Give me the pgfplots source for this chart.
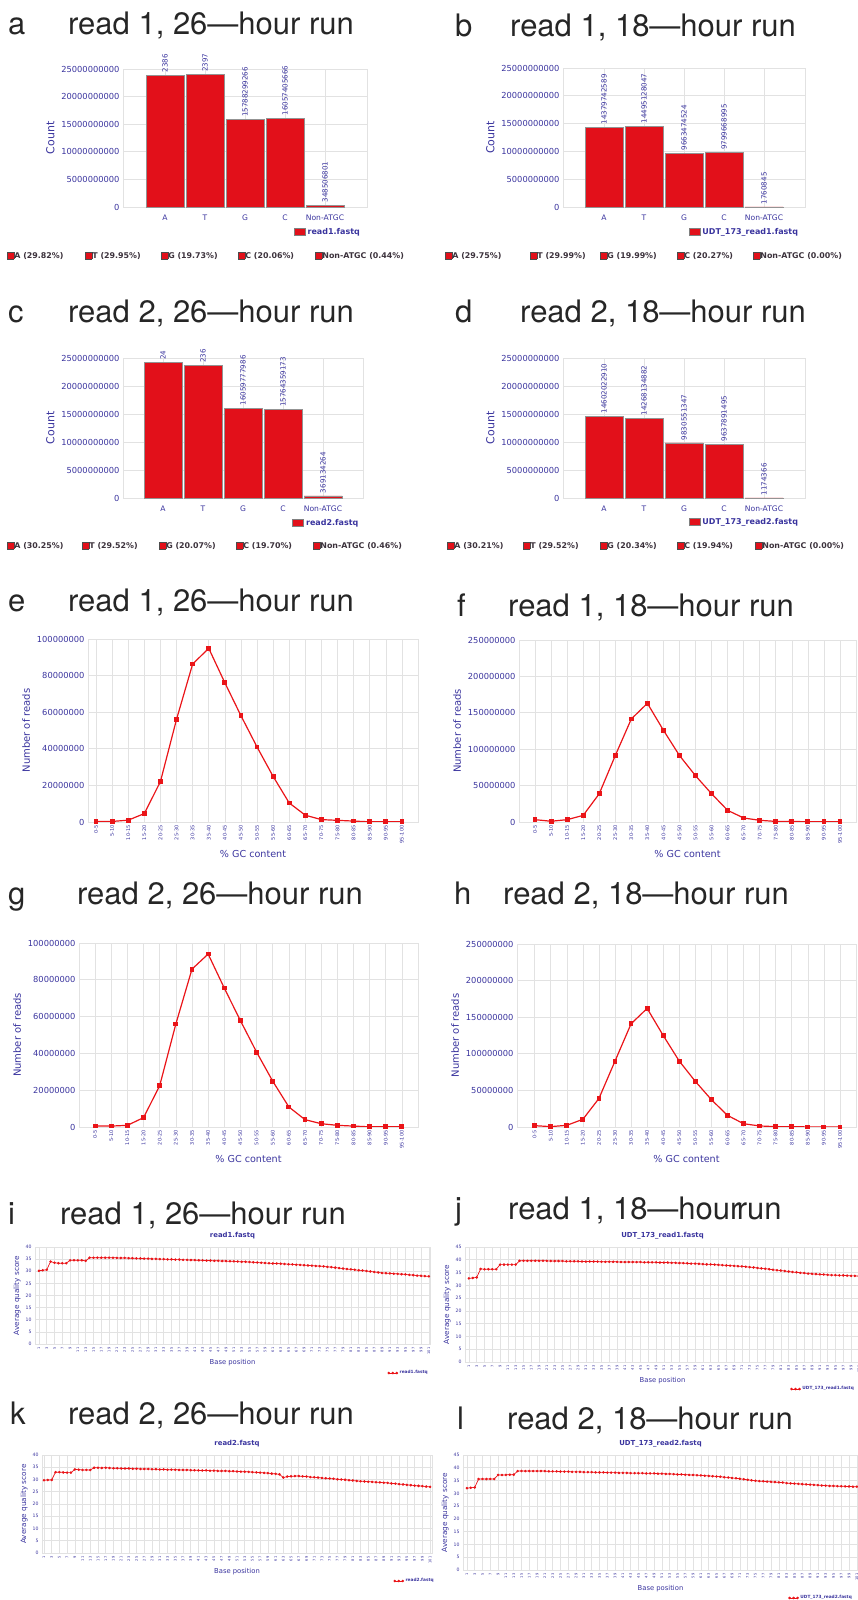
\documentclass[border=0pt]{standalone}
\usepackage{fontspec}
\setmainfont{TeX Gyre Heros}
\newfontfamily\cf{DejaVu Sans}
\usepackage{pgfplots}
\usepackage{pgfplotstable}
\pgfplotsset{compat=1.18}
\definecolor{jblue}{RGB}{58,52,158}
\definecolor{barred}{RGB}{226,16,26}
\definecolor{linered}{RGB}{234,20,24}
\definecolor{gridc}{RGB}{226,226,226}
\definecolor{legtext}{RGB}{60,50,60}
\newcommand{\sq}{{\fboxsep=0pt\fboxrule=0.6pt\fcolorbox{black!70}{barred}{\rule{0pt}{6pt}\hspace{6pt}}}}

\pgfplotstableread{
idx e f g h
0 300000 3200000 500000 1800000
1 300000 1000000 500000 500000
2 1000000 3200000 900000 2300000
3 4600000 9100000 5100000 10500000
4 22100000 38800000 22500000 39000000
5 56100000 91300000 56000000 90000000
6 86300000 141600000 85800000 141000000
7 94900000 163000000 94000000 162000000
8 76100000 126000000 75500000 125000000
9 58100000 91300000 57800000 90000000
10 41000000 63500000 40700000 62300000
11 24900000 38800000 24900000 37300000
12 10400000 16000000 10900000 15900000
13 3700000 5500000 4000000 4500000
14 1300000 2300000 1800000 1400000
15 900000 800000 900000 500000
16 500000 900000 500000 500000
17 100000 200000 100000 100000
18 100000 200000 100000 100000
19 100000 200000 100000 100000
}\gcdata

\pgfplotstableread{
pos i j k l
1 30.2 32.7 29.7 32.0
2 30.4 32.9 29.8 32.2
3 30.6 33.1 29.8 32.3
4 34.0 36.4 33.0 35.6
5 33.5 36.3 33.0 35.6
6 33.3 36.3 32.9 35.6
7 33.3 36.3 32.8 35.6
8 33.3 36.3 32.8 35.6
9 34.5 38.1 34.1 37.2
10 34.5 38.1 34.0 37.2
11 34.5 38.1 33.9 37.2
12 34.5 38.1 33.9 37.3
13 34.3 38.1 33.9 37.3
14 35.6 39.6 34.8 38.7
15 35.6 39.6 34.8 38.7
16 35.6 39.6 34.7 38.7
17 35.6 39.6 34.8 38.7
18 35.6 39.6 34.7 38.7
19 35.6 39.6 34.6 38.7
20 35.6 39.6 34.6 38.7
21 35.5 39.6 34.5 38.7
22 35.5 39.5 34.5 38.6
23 35.5 39.5 34.5 38.6
24 35.4 39.5 34.4 38.6
25 35.4 39.5 34.4 38.5
26 35.3 39.4 34.3 38.5
27 35.3 39.4 34.3 38.5
28 35.2 39.4 34.3 38.4
29 35.2 39.4 34.2 38.4
30 35.1 39.3 34.2 38.4
31 35.1 39.3 34.1 38.3
32 35.0 39.3 34.1 38.3
33 35.0 39.3 34.0 38.3
34 34.9 39.3 34.0 38.2
35 34.9 39.2 34.0 38.2
36 34.8 39.2 33.9 38.2
37 34.8 39.2 33.9 38.1
38 34.7 39.2 33.9 38.1
39 34.7 39.2 33.8 38.1
40 34.6 39.1 33.8 38.0
41 34.6 39.1 33.7 38.0
42 34.5 39.1 33.7 38.0
43 34.5 39.1 33.7 37.9
44 34.4 39.1 33.6 37.9
45 34.4 39.1 33.6 37.9
46 34.3 39.0 33.5 37.9
47 34.3 39.0 33.5 37.8
48 34.2 39.0 33.5 37.8
49 34.2 39.0 33.4 37.8
50 34.1 38.9 33.4 37.7
51 34.1 38.9 33.3 37.7
52 34.0 38.9 33.2 37.6
53 33.9 38.8 33.2 37.6
54 33.9 38.8 33.1 37.5
55 33.8 38.7 33.0 37.4
56 33.7 38.7 32.9 37.4
57 33.6 38.6 32.8 37.3
58 33.5 38.5 32.7 37.2
59 33.4 38.5 32.6 37.2
60 33.3 38.4 32.4 37.1
61 33.2 38.3 32.3 37.0
62 33.2 38.2 32.1 36.9
63 33.1 38.2 30.8 36.8
64 33.0 38.1 31.2 36.7
65 32.9 38.0 31.3 36.6
66 32.8 37.9 31.4 36.5
67 32.7 37.8 31.4 36.3
68 32.6 37.7 31.3 36.2
69 32.5 37.6 31.2 36.0
70 32.4 37.5 31.0 35.9
71 32.3 37.4 30.9 35.7
72 32.2 37.3 30.8 35.5
73 32.1 37.1 30.6 35.3
74 32.0 37.0 30.5 35.1
75 31.8 36.8 30.4 34.9
76 31.7 36.6 30.3 34.8
77 31.5 36.5 30.1 34.7
78 31.3 36.3 30.0 34.6
79 31.1 36.1 29.9 34.5
80 30.9 35.9 29.7 34.4
81 30.8 35.8 29.6 34.3
82 30.6 35.6 29.4 34.2
83 30.4 35.4 29.3 34.0
84 30.3 35.2 29.2 33.9
85 30.1 35.1 29.1 33.8
86 29.9 34.9 29.0 33.7
87 29.7 34.8 28.9 33.6
88 29.5 34.6 28.8 33.5
89 29.3 34.5 28.7 33.4
90 29.2 34.4 28.6 33.3
91 29.1 34.3 28.4 33.2
92 29.0 34.2 28.3 33.1
93 28.9 34.1 28.1 33.0
94 28.8 34.0 28.0 32.9
95 28.7 34.0 27.8 32.9
96 28.5 33.9 27.7 32.8
97 28.4 33.9 27.5 32.8
98 28.2 33.8 27.4 32.7
99 28.1 33.7 27.3 32.7
100 28.0 33.7 27.1 32.6
101 27.9 33.6 27.0 32.6
}\qdata

\pgfplotsset{
  common/.style={scale only axis, anchor=south west,
    axis line style={gridc}, tick style={draw=none},
    grid=major, grid style={gridc, line width=0.6pt},
    ticklabel style={text=jblue}, label style={text=jblue},
    scaled y ticks=false, scaled x ticks=false,
    /pgf/number format/assume math mode=true},
  barax/.style={common, ybar, ymin=0, ymax=25e9,
    ytick={0,5e9,10e9,15e9,20e9,25e9},
    yticklabels={0,5000000000,10000000000,15000000000,20000000000,25000000000},
    xtick={0,1,2,3,4}, xticklabels={A,T,G,C,Non-ATGC},
    yticklabel style={font=\cf\fontsize{8.3}{9}\selectfont},
    xticklabel style={font=\cf\fontsize{7.6}{8}\selectfont},
    ylabel={Count}, ylabel style={font=\cf\fontsize{11}{12}\selectfont},
    legend style={draw=none, fill=none, font=\cf\bfseries\fontsize{8}{9}\selectfont,
      text=jblue, anchor=east, inner sep=0pt},
    legend image code/.code={\draw[fill=barred, draw=gray] (0pt,-3.5pt) rectangle (11pt,3.5pt);},
    clip=false, nodes near coords, point meta=explicit symbolic,
    every node near coord/.append style={rotate=90, anchor=west,
      font=\cf\fontsize{7.1}{8}\selectfont, text=jblue, inner sep=2.5pt}},
  barplot/.style={fill=barred, draw=gray!85, line width=0.8pt, bar width=38pt},
  gcax/.style={common, ymin=0, xtick={0,...,19},
    xticklabels={0-5,5-10,10-15,15-20,20-25,25-30,30-35,35-40,40-45,45-50,50-55,55-60,60-65,65-70,70-75,75-80,80-85,85-90,90-95,95-100},
    xticklabel style={rotate=90, anchor=east, font=\cf\fontsize{5}{5}\selectfont},
    yticklabel style={font=\cf\fontsize{8.3}{9}\selectfont},
    xlabel={\% GC content}, ylabel={Number of reads},
    xlabel style={font=\cf\fontsize{9.6}{10}\selectfont},
    ylabel style={font=\cf\fontsize{10}{11}\selectfont}},
  gc100/.style={ymax=100e6, ytick={0,20e6,40e6,60e6,80e6,100e6},
    yticklabels={0,20000000,40000000,60000000,80000000,100000000}},
  gc250/.style={ymax=250e6, ytick={0,50e6,100e6,150e6,200e6,250e6},
    yticklabels={0,50000000,100000000,150000000,200000000,250000000}},
  gcplot/.style={linered, line width=1.2pt, mark=square*, mark size=1.8pt},
  qax/.style={common, xmin=0, xmax=101.3, ymin=0, xtick={1,3,...,101},
    xticklabel style={rotate=90, anchor=east, font=\cf\fontsize{3.6}{4}\selectfont},
    yticklabel style={font=\cf\fontsize{4.6}{5}\selectfont},
    xlabel={Base position}, ylabel={Average quality score},
    xlabel style={font=\cf\fontsize{6.8}{7}\selectfont, yshift=2pt},
    ylabel style={font=\cf\fontsize{7.3}{8}\selectfont, yshift=-2pt},
    title style={font=\cf\bfseries\fontsize{6.9}{7}\selectfont, text=jblue,
      at={(0.5,1)}, anchor=south, yshift=0.5pt, inner sep=1pt},
    legend style={draw=none, fill=none, font=\cf\bfseries\fontsize{4.3}{5}\selectfont,
      text=jblue, anchor=east, inner sep=0pt},
    legend image code/.code={\draw[#1] plot coordinates {(0pt,0pt) (4pt,0pt) (8pt,0pt)};}},
  q40/.style={ymax=40, ytick={0,5,...,40}},
  q45/.style={ymax=45, ytick={0,5,...,45}},
  qplot/.style={linered, line width=0.7pt, mark=*, mark size=0.9pt},
}

\begin{document}
\begin{tikzpicture}[x=1pt,y=1pt]
\path[use as bounding box] (0pt,0pt) rectangle (857pt,1600pt);

% ---------- titles ----------
\begin{scope}[every node/.style={anchor=base west, inner sep=0pt, font=\fontsize{31}{37}\selectfont, text=black!85}]
\node at (8pt,1565pt) {a};   \node at (68pt,1565pt) {read 1, 26—hour run};
\node at (455pt,1563pt) {b}; \node at (510pt,1563pt) {read 1, 18—hour run};
\node at (8pt,1277pt) {c};   \node at (68pt,1277pt) {read 2, 26—hour run};
\node at (455pt,1277pt) {d}; \node at (520pt,1277pt) {read 2, 18—hour run};
\node at (8pt,988pt) {e};    \node at (68pt,988pt) {read 1, 26—hour run};
\node at (457pt,983pt) {f};  \node at (508pt,983pt) {read 1, 18—hour run};
\node at (8pt,695pt) {g};    \node at (77pt,695pt) {read 2, 26—hour run};
\node at (454pt,695pt) {h};  \node at (503pt,695pt) {read 2, 18—hour run};
\node at (8pt,375pt) {i};    \node at (60pt,375pt) {read 1, 26—hour run};
\node at (455pt,380pt) {j};  \node at (508pt,380pt) {read 1, 18—hour\kern-0.12em run};
\node at (10pt,175pt) {k};   \node at (68pt,175pt) {read 2, 26—hour run};
\node at (457pt,170pt) {l};  \node at (507pt,170pt) {read 2, 18—hour run};
\end{scope}

% ---------- a ----------
\begin{axis}[barax, at={(123pt,1393pt)}, width=244pt, height=138pt, xmin=-1.05, xmax=5.05,
  legend style={at={(rel axis cs:0.98,-0.18)}}]
\addplot[barplot] coordinates {(0,23860000000) [2386] (1,23970000000) [2397] (2,15788299266) [15788299266] (3,16057405666) [16057405666] (4,348506801) [348506801]};
\addlegendentry{read1.fastq}
\end{axis}
% ---------- b ----------
\begin{axis}[barax, at={(563pt,1393pt)}, width=242pt, height=139pt, xmin=-1.025, xmax=5.025,
  legend style={at={(rel axis cs:0.98,-0.18)}}]
\addplot[barplot] coordinates {(0,14379742589) [14379742589] (1,14495128047) [14495128047] (2,9663474524) [9663474524] (3,9799668995) [9799668995] (4,1760845) [1760845]};
\addlegendentry{UDT\_173\_read1.fastq}
\end{axis}
% ---------- c ----------
\begin{axis}[barax, at={(123pt,1102pt)}, width=240pt, height=140pt, xmin=-1, xmax=5,
  legend style={at={(rel axis cs:0.99,-0.18)}}]
\addplot[barplot] coordinates {(0,24180000000) [24] (1,23600000000) [236] (2,16059777986) [16059777986] (3,15764359173) [15764359173] (4,369134264) [369134264]};
\addlegendentry{read2.fastq}
\end{axis}
% ---------- d ----------
\begin{axis}[barax, at={(563pt,1102pt)}, width=242pt, height=140pt, xmin=-1.025, xmax=5.025,
  legend style={at={(rel axis cs:0.98,-0.17)}}]
\addplot[barplot] coordinates {(0,14602022910) [14602022910] (1,14268134882) [14268134882] (2,9830551347) [9830551347] (3,9637891495) [9637891495] (4,1174366) [1174366]};
\addlegendentry{UDT\_173\_read2.fastq}
\end{axis}

% ---------- bottom legend rows ----------
\begin{scope}[every node/.style={anchor=west, inner sep=0pt, font=\cf\bfseries\fontsize{7.9}{9}\selectfont, text=legtext}]
\node at (7pt,1344pt) {\sq A (29.82\%)};
\node at (85pt,1344pt) {\sq T (29.95\%)};
\node at (161pt,1344pt) {\sq G (19.73\%)};
\node at (238pt,1344pt) {\sq C (20.06\%)};
\node at (315pt,1344pt) {\sq Non-ATGC (0.44\%)};
\node at (445pt,1344pt) {\sq A (29.75\%)};
\node at (530pt,1344pt) {\sq T (29.99\%)};
\node at (600pt,1344pt) {\sq G (19.99\%)};
\node at (677pt,1344pt) {\sq C (20.27\%)};
\node at (753pt,1344pt) {\sq Non-ATGC (0.00\%)};
\node at (7pt,1054pt) {\sq A (30.25\%)};
\node at (82pt,1054pt) {\sq T (29.52\%)};
\node at (159pt,1054pt) {\sq G (20.07\%)};
\node at (236pt,1054pt) {\sq C (19.70\%)};
\node at (313pt,1054pt) {\sq Non-ATGC (0.46\%)};
\node at (447pt,1054pt) {\sq A (30.21\%)};
\node at (523pt,1054pt) {\sq T (29.52\%)};
\node at (600pt,1054pt) {\sq G (20.34\%)};
\node at (677pt,1054pt) {\sq C (19.94\%)};
\node at (755pt,1054pt) {\sq Non-ATGC (0.00\%)};
\end{scope}

% ---------- e ----------
\begin{axis}[gcax, gc100, at={(88pt,778pt)}, width=330pt, height=183pt, xmin=-0.5, xmax=20]
\addplot[gcplot] table[x=idx, y=e] {\gcdata};
\end{axis}
% ---------- f ----------
\begin{axis}[gcax, gc250, at={(519pt,778pt)}, width=337pt, height=182pt, xmin=-1, xmax=20]
\addplot[gcplot] table[x=idx, y=f] {\gcdata};
\end{axis}
% ---------- g ----------
\begin{axis}[gcax, gc100, at={(79pt,473pt)}, width=339pt, height=184pt, xmin=-1, xmax=20]
\addplot[gcplot] table[x=idx, y=g] {\gcdata};
\end{axis}
% ---------- h ----------
\begin{axis}[gcax, gc250, at={(517pt,473pt)}, width=339pt, height=183pt, xmin=-1.1, xmax=20]
\addplot[gcplot] table[x=idx, y=h] {\gcdata};
\end{axis}

% ---------- i ----------
\begin{axis}[qax, q40, at={(35pt,256pt)}, width=395pt, height=97pt, title={read1.fastq},
  legend style={at={(rel axis cs:1.0,-0.30)}}]
\addplot[qplot] table[x=pos, y=i] {\qdata};
\addlegendentry{read1.fastq}
\end{axis}
% ---------- j ----------
\begin{axis}[qax, q45, at={(465pt,238pt)}, width=395pt, height=115pt, title={UDT\_173\_read1.fastq},
  legend style={at={(rel axis cs:0.99,-0.235)}}]
\addplot[qplot] table[x=pos, y=j] {\qdata};
\addlegendentry{UDT\_173\_read1.fastq}
\end{axis}
% ---------- k ----------
\begin{axis}[qax, q40, at={(42pt,47pt)}, width=390pt, height=98pt, xmin=0.5, xmax=101.5, title={read2.fastq},
  legend style={at={(rel axis cs:1.01,-0.286)}}]
\addplot[qplot] table[x=pos, y=k] {\qdata};
\addlegendentry{read2.fastq}
\end{axis}
% ---------- l ----------
\begin{axis}[qax, q45, at={(463pt,30pt)}, width=395pt, height=115pt, title={UDT\_173\_read2.fastq},
  legend style={at={(rel axis cs:0.99,-0.243)}}]
\addplot[qplot] table[x=pos, y=l] {\qdata};
\addlegendentry{UDT\_173\_read2.fastq}
\end{axis}
\end{tikzpicture}
\end{document}
